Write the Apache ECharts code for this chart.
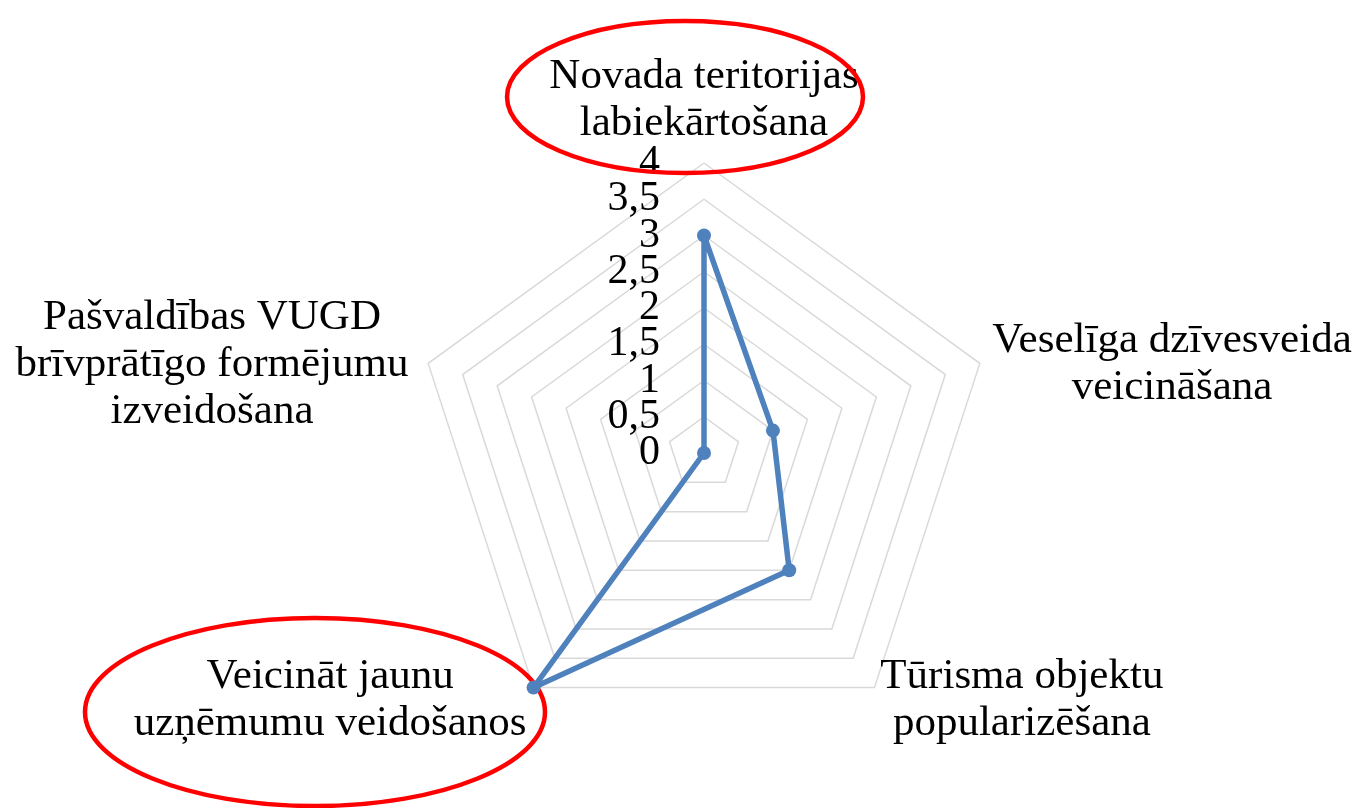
<!DOCTYPE html>
<html>
<head>
<meta charset="utf-8">
<script src="https://cdn.jsdelivr.net/npm/echarts@6/dist/echarts.min.js"></script>
<style>
html,body{margin:0;padding:0;background:#fff;}
#chart{width:1356px;height:808px;}
</style>
</head>
<body>
<div id="chart"></div>
<script>
// Categories in the reference's clockwise order, starting at the top
const categories = [
  'Novada teritorijas\nlabiekārtošana',
  'Veselīga dzīvesveida\nveicināšana',
  'Tūrisma objektu\npopularizēšana',
  'Veicināt jaunu\nuzņēmumu veidošanos',
  'Pašvaldības VUGD\nbrīvprātīgo formējumu\nizveidošana'
];
const values = [3, 1, 2, 4, 0];
const tickLabels = ['0', '0,5', '1', '1,5', '2', '2,5', '3', '3,5', '4'];
const axisMax = 4;
const axisStep = 0.5;

// ECharts radar lays indicators counter-clockwise; reorder to get clockwise
const order = [0, 4, 3, 2, 1];
const FONT = '"Liberation Serif", "Times New Roman", serif';
const labelWidths = [330, 354, 276, 388, 402];
const labelShiftDown = [0, 12, 0, 0, 12];

const rich = {};
categories.forEach((c, i) => {
  rich['r' + i] = {
    width: labelWidths[i], align: 'center', fontSize: 43, lineHeight: 47,
    fontFamily: FONT, color: '#000'
  };
  rich['s' + i] = { fontSize: 1, lineHeight: labelShiftDown[i] || 1, width: 1 };
});

const CENTER = [704, 453];
const RADIUS = 290;
const tickIndex = v => Math.round(v / axisStep);
const lastTick = tickLabels.length - 1;

function radiusAxisFor(polarIndex, showEnds) {
  return {
    polarIndex: polarIndex,
    type: 'value', min: 0, max: axisMax, interval: axisStep,
    axisLine: { show: false }, axisTick: { show: false }, splitLine: { show: false },
    axisLabel: {
      margin: 44, fontSize: 42, fontFamily: FONT, color: '#000',
      showMinLabel: showEnds, showMaxLabel: showEnds,
      formatter: v => {
        const k = tickIndex(v);
        const isEnd = (k === 0 || k === lastTick);
        return isEnd === showEnds ? tickLabels[k] : '';
      }
    }
  };
}

const chart = echarts.init(document.getElementById('chart'), null, {renderer: 'canvas'});
chart.setOption({
  backgroundColor: '#fff',
  animation: false,
  radar: {
    center: CENTER,
    radius: RADIUS,
    startAngle: 90,
    splitNumber: axisMax / axisStep,
    shape: 'polygon',
    axisNameGap: 16,
    indicator: order.map(i => ({ name: categories[i], min: 0, max: axisMax })),
    axisName: {
      color: '#000', fontSize: 43, fontFamily: FONT, lineHeight: 47,
      formatter: function (name) {
        const i = categories.indexOf(name);
        const lines = name.split('\n').map(l => '{r' + i + '|' + l + '}');
        if (labelShiftDown[i]) lines.unshift('{s' + i + '| }');
        return lines.join('\n');
      },
      rich: rich
    },
    axisLine: { show: false },
    axisTick: { show: false },
    axisLabel: { show: false },
    splitArea: { show: false },
    splitLine: { lineStyle: { color: '#d9d9d9', width: 1.5 } }
  },
  polar: [
    { center: CENTER, radius: RADIUS },
    { center: CENTER, radius: RADIUS }
  ],
  angleAxis: [
    { polarIndex: 0, type: 'value', show: false, startAngle: 90 },
    { polarIndex: 1, type: 'value', show: false, startAngle: 90 }
  ],
  radiusAxis: [radiusAxisFor(0, false), radiusAxisFor(1, true)],
  graphic: [
    { type: 'ellipse', z: 1, shape: { cx: 685, cy: 97, rx: 178, ry: 76 },
      style: { fill: 'transparent', stroke: '#ff0000', lineWidth: 4.5 } },
    { type: 'ellipse', z: 1, shape: { cx: 315, cy: 712, rx: 230, ry: 94 },
      style: { fill: 'transparent', stroke: '#ff0000', lineWidth: 4.5 } }
  ],
  series: [{
    type: 'radar',
    z: 5,
    symbol: 'circle',
    symbolSize: 14,
    lineStyle: { color: '#4f81bd', width: 5.5 },
    itemStyle: { color: '#4f81bd' },
    data: [{ value: order.map(i => values[i]) }]
  }]
});
</script>
</body>
</html>
